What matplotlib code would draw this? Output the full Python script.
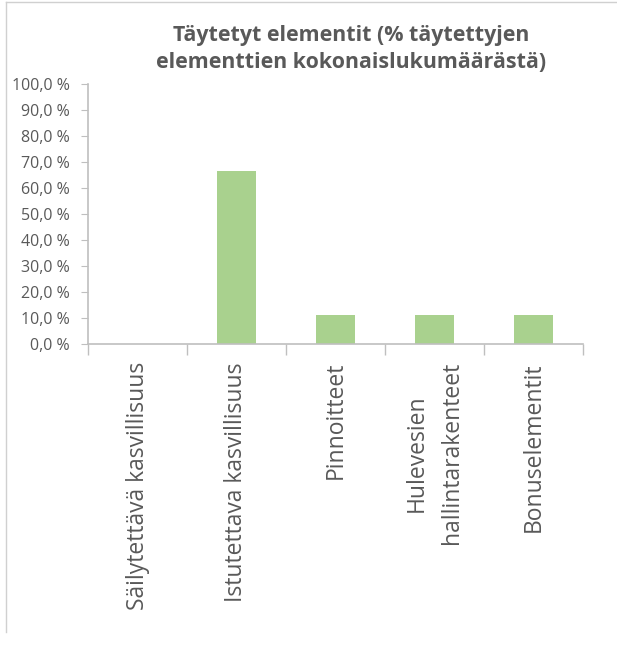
import matplotlib
matplotlib.use("Agg")
import matplotlib.pyplot as plt
from matplotlib.lines import Line2D
from matplotlib.ticker import FuncFormatter, MultipleLocator

# Täytetyt elementit, osuus kaikista täytetyistä elementeistä (%)
categories = ["Säilytettävä kasvillisuus", "Istutettava kasvillisuus", "Pinnoitteet",
              "Hulevesien\nhallintarakenteet", "Bonuselementit"]
shares = [0.0, 66.7, 11.1, 11.1, 11.1]
title = "Täytetyt elementit (% täytettyjen\nelementtien kokonaislukumäärästä)"

plt.rcParams['font.family'] = ['Open Sans', 'DejaVu Sans']
text_col = '#595959'
axis_col = '#BFBFBF'

fig = plt.figure(figsize=(6.17, 6.46), dpi=100)
ax = fig.add_axes([88/617, 1 - 344/646, (583-88)/617, (344-84)/646])

x = list(range(len(categories)))
ax.bar(x, shares, width=0.39, color='#A9D18E', zorder=2)

ax.set_xlim(-0.5, len(categories) - 0.5)
ax.set_ylim(0, 100)
ax.yaxis.set_major_locator(MultipleLocator(10))
ax.yaxis.set_major_formatter(FuncFormatter(lambda v, p: f"{v:.1f} %".replace('.', ',')))

for s in ['top', 'right']:
    ax.spines[s].set_visible(False)
for s in ['left', 'bottom']:
    ax.spines[s].set_color(axis_col)
    ax.spines[s].set_linewidth(1.2)

ax.tick_params(axis='y', length=5, color=axis_col, labelcolor=text_col, labelsize=11.5, pad=8)
# category separators as major ticks, names on minor ticks at bar centres
ax.set_xticks([i + 0.5 for i in range(-1, len(categories))], minor=False)
ax.set_xticklabels([])
ax.tick_params(axis='x', length=8, color=axis_col, width=1)
ax.set_xticks(x, minor=True)
ax.set_xticklabels(categories, minor=True, rotation=90, ha='center', va='top',
                   multialignment='center', fontsize=16.5, color=text_col)
ax.tick_params(axis='x', which='minor', length=0, pad=13)
for lbl in ax.get_xticklabels(minor=True):
    lbl.set_linespacing(1.6)

fig.text(351/617, 1 - 25/646, title, ha='center', va='top', fontsize=15.4,
         fontweight='bold', color=text_col, linespacing=1.38)

# chart frame on the top and left edges
fig.add_artist(Line2D([6/617, 1], [1 - 2/646, 1 - 2/646], color='#D0D0D0', lw=1))
fig.add_artist(Line2D([6/617, 6/617], [1 - 2/646, 1 - 632/646], color='#D0D0D0', lw=1))

fig.savefig("out.png", dpi=100)
